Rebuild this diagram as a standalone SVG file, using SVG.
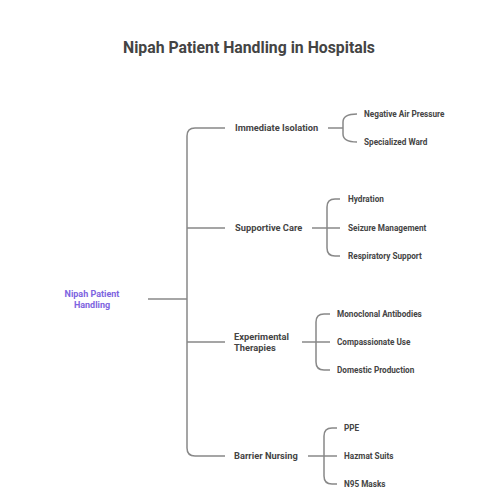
<svg xmlns="http://www.w3.org/2000/svg" width="500" height="500" viewBox="0 0 500 500">
<style>
.t{font-family:Roboto,"Liberation Sans",sans-serif;font-weight:bold;fill:#444;}
.title{font-size:15.8px;}
.b{font-size:9.3px;}
.c{font-size:8.2px;}
.root{font-family:Roboto,"Liberation Sans",sans-serif;font-weight:bold;font-size:9px;fill:#7d64e0;}
.ln{fill:none;stroke:#888;stroke-width:1.5;}
</style>
<rect width="500" height="500" fill="#fff"/>
<text class="t title" x="249" y="52.5" text-anchor="middle">Nipah Patient Handling in Hospitals</text>
<g id="connectors">
<path class="ln" d="M148 299H187"/>
<path class="ln" d="M225 128H195Q187 128 187 136V448Q187 456 195 456H225"/>
<path class="ln" d="M187 228H225M187 342H225"/>
<path class="ln" d="M328 128H343"/>
<path class="ln" d="M357 114Q343 114 343 122V134Q343 142 357 142"/>
<path class="ln" d="M312 228H340"/>
<path class="ln" d="M340 199H335Q327 199 327 207V248Q327 256 335 256H340"/>
<path class="ln" d="M302 342H330"/>
<path class="ln" d="M330 314H324Q316 314 316 322V362Q316 370 324 370H330"/>
<path class="ln" d="M308 456H337"/>
<path class="ln" d="M337 428H332Q324 428 324 436V476Q324 484 332 484H337"/>
</g>
<g id="root"><text class="root" text-anchor="middle" x="92"><tspan x="92" y="296.5">Nipah Patient</tspan><tspan x="92" y="307.5">Handling</tspan></text></g>
<g id="immediate-isolation"><text class="t b" x="235" y="131.2">Immediate Isolation</text></g>
<g id="negative-air-pressure"><text class="t c" x="364" y="117">Negative Air Pressure</text></g>
<g id="specialized-ward"><text class="t c" x="364" y="145">Specialized Ward</text></g>
<g id="supportive-care"><text class="t b" x="235" y="231.2">Supportive Care</text></g>
<g id="hydration"><text class="t c" x="348" y="202">Hydration</text></g>
<g id="seizure-management"><text class="t c" x="348" y="231">Seizure Management</text></g>
<g id="respiratory-support"><text class="t c" x="348" y="259">Respiratory Support</text></g>
<g id="experimental-therapies"><text class="t b"><tspan x="234" y="340">Experimental</tspan><tspan x="234" y="351">Therapies</tspan></text></g>
<g id="monoclonal-antibodies"><text class="t c" x="337" y="317">Monoclonal Antibodies</text></g>
<g id="compassionate-use"><text class="t c" x="337" y="345">Compassionate Use</text></g>
<g id="domestic-production"><text class="t c" x="337" y="373">Domestic Production</text></g>
<g id="barrier-nursing"><text class="t b" x="234" y="459.2">Barrier Nursing</text></g>
<g id="ppe"><text class="t c" x="344" y="431">PPE</text></g>
<g id="hazmat-suits"><text class="t c" x="344" y="459">Hazmat Suits</text></g>
<g id="n95-masks"><text class="t c" x="344" y="487">N95 Masks</text></g>
</svg>
